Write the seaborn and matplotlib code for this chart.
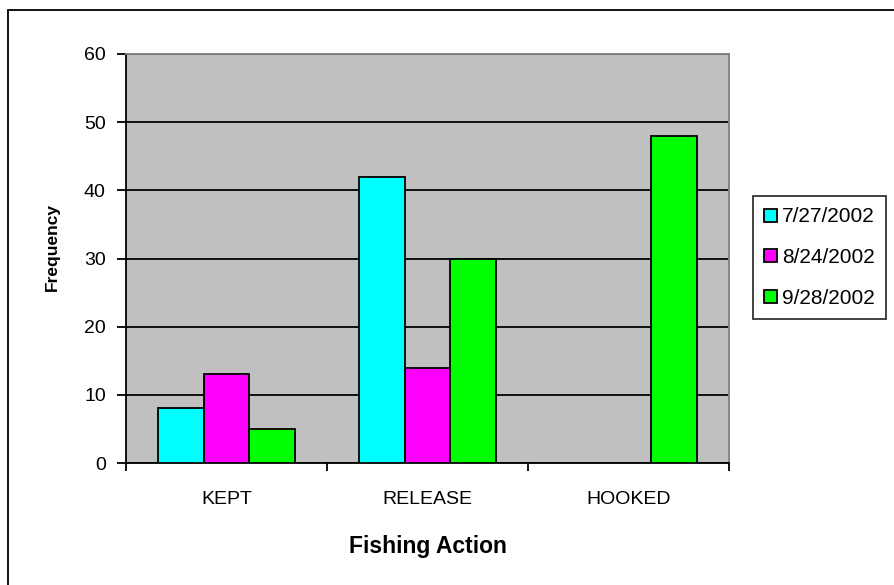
import pandas as pd
import seaborn as sns
import matplotlib.pyplot as plt
from matplotlib.patches import Rectangle

actions = ["KEPT", "RELEASE", "HOOKED"]
dates = ["7/27/2002", "8/24/2002", "9/28/2002"]
vals_0727 = [8, 42, 0]
vals_0824 = [13, 14, 0]
vals_0928 = [5, 30, 48]
colors = ["#00FFFF", "#FF00FF", "#00FF00"]

df = pd.DataFrame({
    "Fishing Action": actions * 3,
    "Date": [d for d in dates for _ in actions],
    "Frequency": vals_0727 + vals_0824 + vals_0928,
})

sns.set_style("white")
plt.rcParams['font.family'] = ['Liberation Sans', 'DejaVu Sans']
plt.rcParams['text.color'] = "black"
plt.rcParams['axes.labelcolor'] = "black"
plt.rcParams['xtick.color'] = "black"
plt.rcParams['ytick.color'] = "black"

fig = plt.figure(figsize=(8.94, 5.85), dpi=100)
ax = fig.add_axes([126 / 894, 1 - 463 / 585, (729 - 126) / 894, (463 - 54) / 585])
ax.set_facecolor("#C0C0C0")

sns.barplot(data=df, x="Fishing Action", y="Frequency", hue="Date",
            palette=colors, saturation=1, width=0.68, gap=0, edgecolor="black",
            linewidth=1.3, ax=ax, legend=True, zorder=3)

ax.set_ylim(0, 60)
ax.set_xlim(-0.5, 2.5)
ax.set_yticks(range(0, 61, 10))
ax.yaxis.grid(True, color="black", linewidth=1.3, zorder=1)
ax.set_axisbelow(True)

for s in ["left", "bottom"]:
    ax.spines[s].set_color("black")
    ax.spines[s].set_linewidth(1.3)
for s in ["top", "right"]:
    ax.spines[s].set_color("#808080")
    ax.spines[s].set_linewidth(1.3)

ax.tick_params(axis="y", direction="out", length=6.5, width=1.3,
               labelsize=14, pad=8, left=True)
ax.tick_params(axis="x", which="major", length=0, labelsize=14, pad=20)
ax.set_xticks([-0.5, 0.5, 1.5, 2.5], minor=True)
ax.tick_params(axis="x", which="minor", direction="out", length=6, width=1.3,
               bottom=True)

ax.set_xlabel("Fishing Action", fontsize=16.5, fontweight="bold", labelpad=19.5)
ax.set_ylabel("Frequency", fontsize=12.5, fontweight="bold", labelpad=17.5, y=0.527)

handles, labels = ax.get_legend_handles_labels()
leg = ax.legend(handles, labels, loc="upper left",
                bbox_to_anchor=(753 / 894, 1 - 196 / 585), bbox_transform=fig.transFigure,
                frameon=True, fancybox=False, edgecolor="black", fontsize=15,
                handlelength=0.58, handleheight=0.58, handletextpad=0.25,
                labelspacing=1.04, borderpad=0.55, borderaxespad=0)
leg.get_frame().set_linewidth(1.3)

# outer chart border
fig.add_artist(Rectangle((8 / 894, -0.1), 1.1, 1.1 - 10 / 585,
                         transform=fig.transFigure, fill=False,
                         edgecolor="black", linewidth=1.3))

fig.savefig("out.png", dpi=100)
